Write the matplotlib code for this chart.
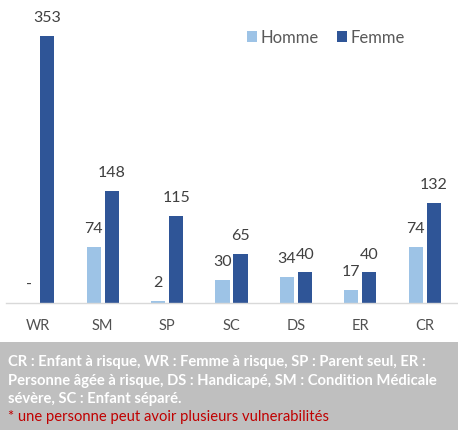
import numpy as np
import matplotlib.pyplot as plt
from matplotlib.patches import Rectangle

categories = ['WR', 'SM', 'SP', 'SC', 'DS', 'ER', 'CR']
homme = [0, 74, 2, 30, 34, 17, 74]
femme = [353, 148, 115, 65, 40, 40, 132]

note_lines = [
    'CR : Enfant à risque, WR : Femme à risque, SP : Parent seul, ER :',
    'Personne âgée à risque, DS : Handicapé, SM : Condition Médicale',
    'sévère, SC : Enfant séparé.',
]
note_red = '* une personne peut avoir plusieurs vulnerabilités'

plt.rcParams['font.family'] = ['Lato', 'DejaVu Sans']

W, H = 458, 430
fig = plt.figure(figsize=(W / 100, H / 100), dpi=100)

# axes placed in pixel terms
ax = fig.add_axes([6 / W, (H - 302.7) / H, 451 / W, 302.7 / H])
x = np.arange(len(categories))
bw = 0.22
off = 0.14
c_h = '#9DC3E6'
c_f = '#2F5597'
b1 = ax.bar(x - off, homme, bw, color=c_h, label='Homme')
b2 = ax.bar(x + off, femme, bw, color=c_f, label='Femme')

for bars, vals in [(b1, homme), (b2, femme)]:
    for b, v in zip(bars, vals):
        txt = '-' if v == 0 else str(v)
        ax.annotate(txt, (b.get_x() + b.get_width() / 2, v),
                    xytext=(0, 10), textcoords='offset points',
                    ha='center', va='baseline', fontsize=11.5, color='#404040')

ax.set_xlim(-0.5, len(categories) - 0.5)
ax.set_ylim(0, 400)
ax.set_xticks(x)
ax.set_xticklabels(categories, fontsize=10.5, color='#505050')
ax.tick_params(axis='x', length=0, pad=12)
ax.set_yticks([])
for s in ['top', 'right', 'left']:
    ax.spines[s].set_visible(False)
ax.spines['bottom'].set_color('#D9D9D9')
ax.spines['bottom'].set_linewidth(1.0)

leg = ax.legend(loc='upper left', bbox_to_anchor=(234 / 451, 1 - 23 / 302.7),
                ncol=2, frameon=False, fontsize=12, handlelength=0.6,
                handleheight=0.6, handletextpad=0.25, columnspacing=1.05,
                borderaxespad=0, labelcolor='#595959')

# grey note box at the bottom
fig.patches.append(Rectangle((0, 0), 1, (H - 342) / H, transform=fig.transFigure,
                             facecolor='#BFBFBF', edgecolor='none', zorder=0))
y0 = H - 362
for i, line in enumerate(note_lines):
    fig.text(8 / W, (y0 - i * 18.5) / H, line, color='white', fontweight='bold',
             fontsize=10.6, va='center', ha='left')
fig.text(8 / W, (y0 - 3 * 18.5) / H, note_red, color='#C00000',
         fontsize=10.6, va='center', ha='left')

fig.savefig('out.png', dpi=100)
